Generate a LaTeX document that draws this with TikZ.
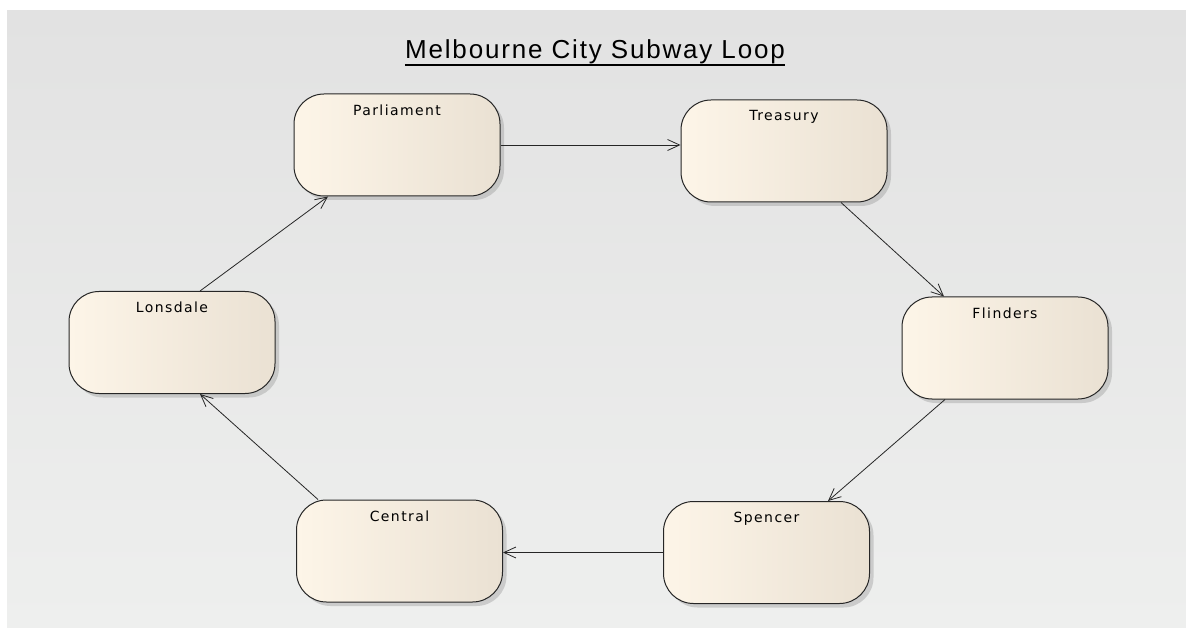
\documentclass[tikz,border=0pt]{standalone}
\usepackage{fontspec}
\setmainfont{DejaVu Sans}
\newfontfamily\lblfont[LetterSpace=10]{DejaVu Sans}
\newfontfamily\ttlfont[LetterSpace=7]{Liberation Sans}
\usetikzlibrary{arrows.meta,shadows}
\definecolor{bgtop}{RGB}{226,226,226}
\definecolor{bgbot}{RGB}{238,239,238}
\definecolor{stleft}{RGB}{253,245,232}
\definecolor{stright}{RGB}{234,225,211}
\tikzset{
  station/.style={draw=black!85, line width=1pt, rounded corners=30pt,
    minimum width=206pt, minimum height=102pt, inner sep=0pt,
    left color=stleft, right color=stright,
    drop shadow={shadow xshift=4pt, shadow yshift=-4pt, fill=black!45, opacity=0.35}},
  stlabel/.style={anchor=north, yshift=-11pt, font=\lblfont\fontsize{14}{16}\selectfont, inner sep=0pt},
  conn/.style={draw=black!85, line width=0.8pt, -{Straight Barb[length=12pt,width=11pt,line width=0.8pt]}}
}
\begin{document}
\begin{tikzpicture}[x=1pt,y=-1pt]
\useasboundingbox (0,0) rectangle (1186,628);
\fill[top color=bgtop, bottom color=bgbot] (7,11) rectangle (1186,628);
\node[font=\ttlfont\fontsize{26}{30}\selectfont, inner sep=0pt, anchor=base] (title) at (595,59) {Melbourne City Subway Loop};
\draw[line width=2pt] ([yshift=-6pt]title.base west) -- ([yshift=-6pt]title.base east);
\node[station, label={[stlabel]north:Parliament}] (p) at (397,145) {};
\node[station, label={[stlabel]north:Treasury}] (t) at (784,151) {};
\node[station, label={[stlabel]north:Flinders}] (f) at (1005,348) {};
\node[station, label={[stlabel]north:Lonsdale}] (l) at (172,342.5) {};
\node[station, label={[stlabel]north:Central}] (c) at (399.5,551) {};
\node[station, label={[stlabel]north:Spencer}] (s) at (766.5,552.5) {};
\draw[conn] (p.east) -- (p.east -| t.west);
\draw[conn] ([xshift=57pt]t.south) -- ([xshift=-61pt]f.north);
\draw[conn] ([xshift=-60pt]f.south) -- ([xshift=61.5pt]s.north);
\draw[conn] (s.west) -- (s.west -| c.east);
\draw[conn] ([xshift=-81.5pt]c.north) -- ([xshift=28pt]l.south);
\draw[conn] ([xshift=28pt]l.north) -- ([xshift=-69pt]p.south);
\end{tikzpicture}
\end{document}
